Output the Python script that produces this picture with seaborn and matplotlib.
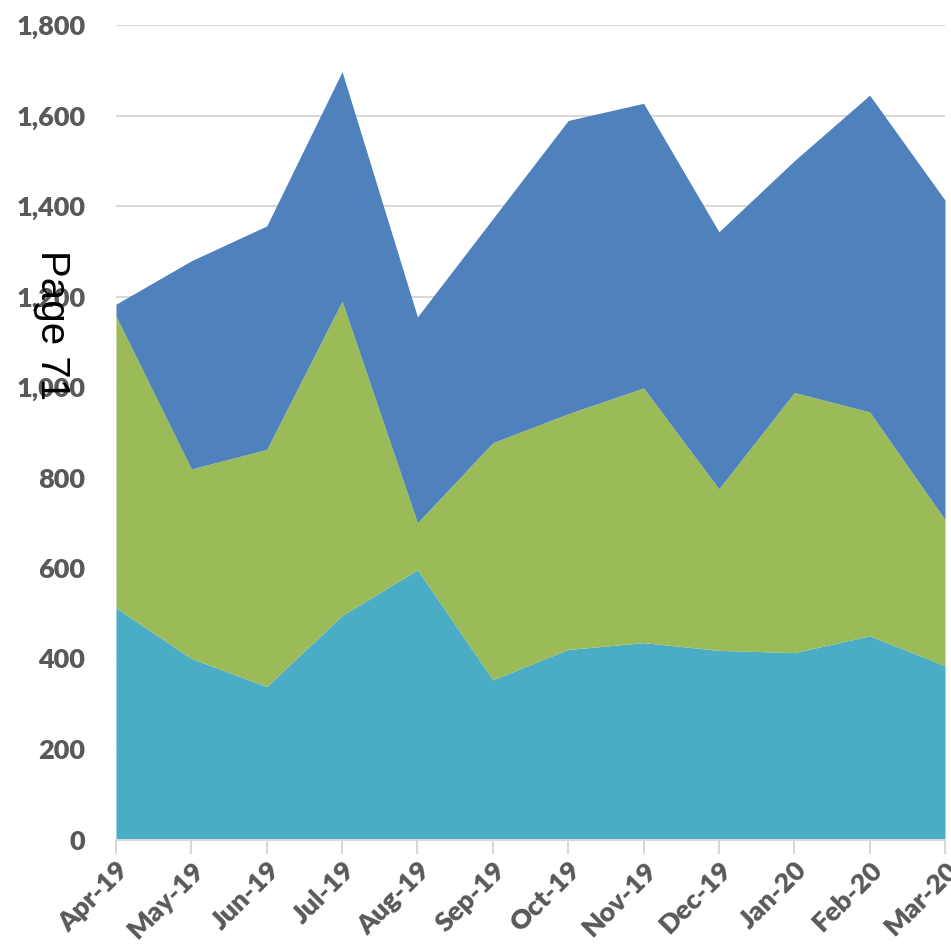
import matplotlib
matplotlib.use("Agg")
import matplotlib.pyplot as plt
import matplotlib.ticker as mticker
import seaborn as sns
import numpy as np

months = ["Apr-19", "May-19", "Jun-19", "Jul-19", "Aug-19", "Sep-19",
          "Oct-19", "Nov-19", "Dec-19", "Jan-20", "Feb-20", "Mar-20"]
# cumulative tops
base_top = [512, 400, 338, 495, 596, 353, 420, 435, 418, 413, 450, 384]
mid_top = [1157, 819, 862, 1190, 700, 877, 941, 998, 775, 988, 945, 707]
upper_top = [1183, 1279, 1356, 1697, 1155, 1372, 1589, 1627, 1343, 1500, 1645, 1413]

series_a = np.array(base_top)
series_b = np.array(mid_top) - np.array(base_top)
series_c = np.array(upper_top) - np.array(mid_top)
colors = ["#4BACC6", "#9BBB59", "#4F81BD"]

sns.set_theme(style="white")
plt.rcParams["font.family"] = ["Lato", "DejaVu Sans"]

fig = plt.figure(figsize=(9.51, 9.49), dpi=100)
ax = fig.add_axes([116 / 951, (949 - 839.5) / 949, (945 - 116) / 951, (839.5 - 25) / 949])

x = np.arange(len(months))
ax.stackplot(x, series_a, series_b, series_c, colors=colors, linewidth=0, zorder=2)

ax.set_xlim(0, len(months) - 1)
ax.set_ylim(0, 1800)
ax.set_yticks(np.arange(0, 1801, 200))
ax.yaxis.set_major_formatter(mticker.FuncFormatter(lambda v, p: f"{int(v):,}"))
ax.grid(axis="y", color="#d9d9d9", linewidth=1.5, zorder=0)
ax.set_axisbelow(True)

ax.set_xticks(x)
ax.set_xticklabels(months, rotation=45, ha="right", rotation_mode="anchor")

for s in ["top", "right", "left"]:
    ax.spines[s].set_visible(False)
ax.spines["bottom"].set_color("#d9d9d9")
ax.spines["bottom"].set_linewidth(1.5)
ax.spines["bottom"].set_zorder(3)

ax.tick_params(axis="x", colors="#595959", labelsize=19.5, length=10, width=1.5,
               color="#d9d9d9", direction="out", bottom=True, pad=3)
ax.tick_params(axis="y", colors="#595959", labelsize=19.5, length=0, pad=22)
for lab in ax.get_xticklabels() + ax.get_yticklabels():
    lab.set_fontweight("heavy")

fig.text(52 / 951, 1 - 325 / 949, "Page 71", rotation=270, ha="center", va="center",
         fontsize=29, color="black", family=["Liberation Sans", "DejaVu Sans"])

fig.savefig("out.png", dpi=100)
